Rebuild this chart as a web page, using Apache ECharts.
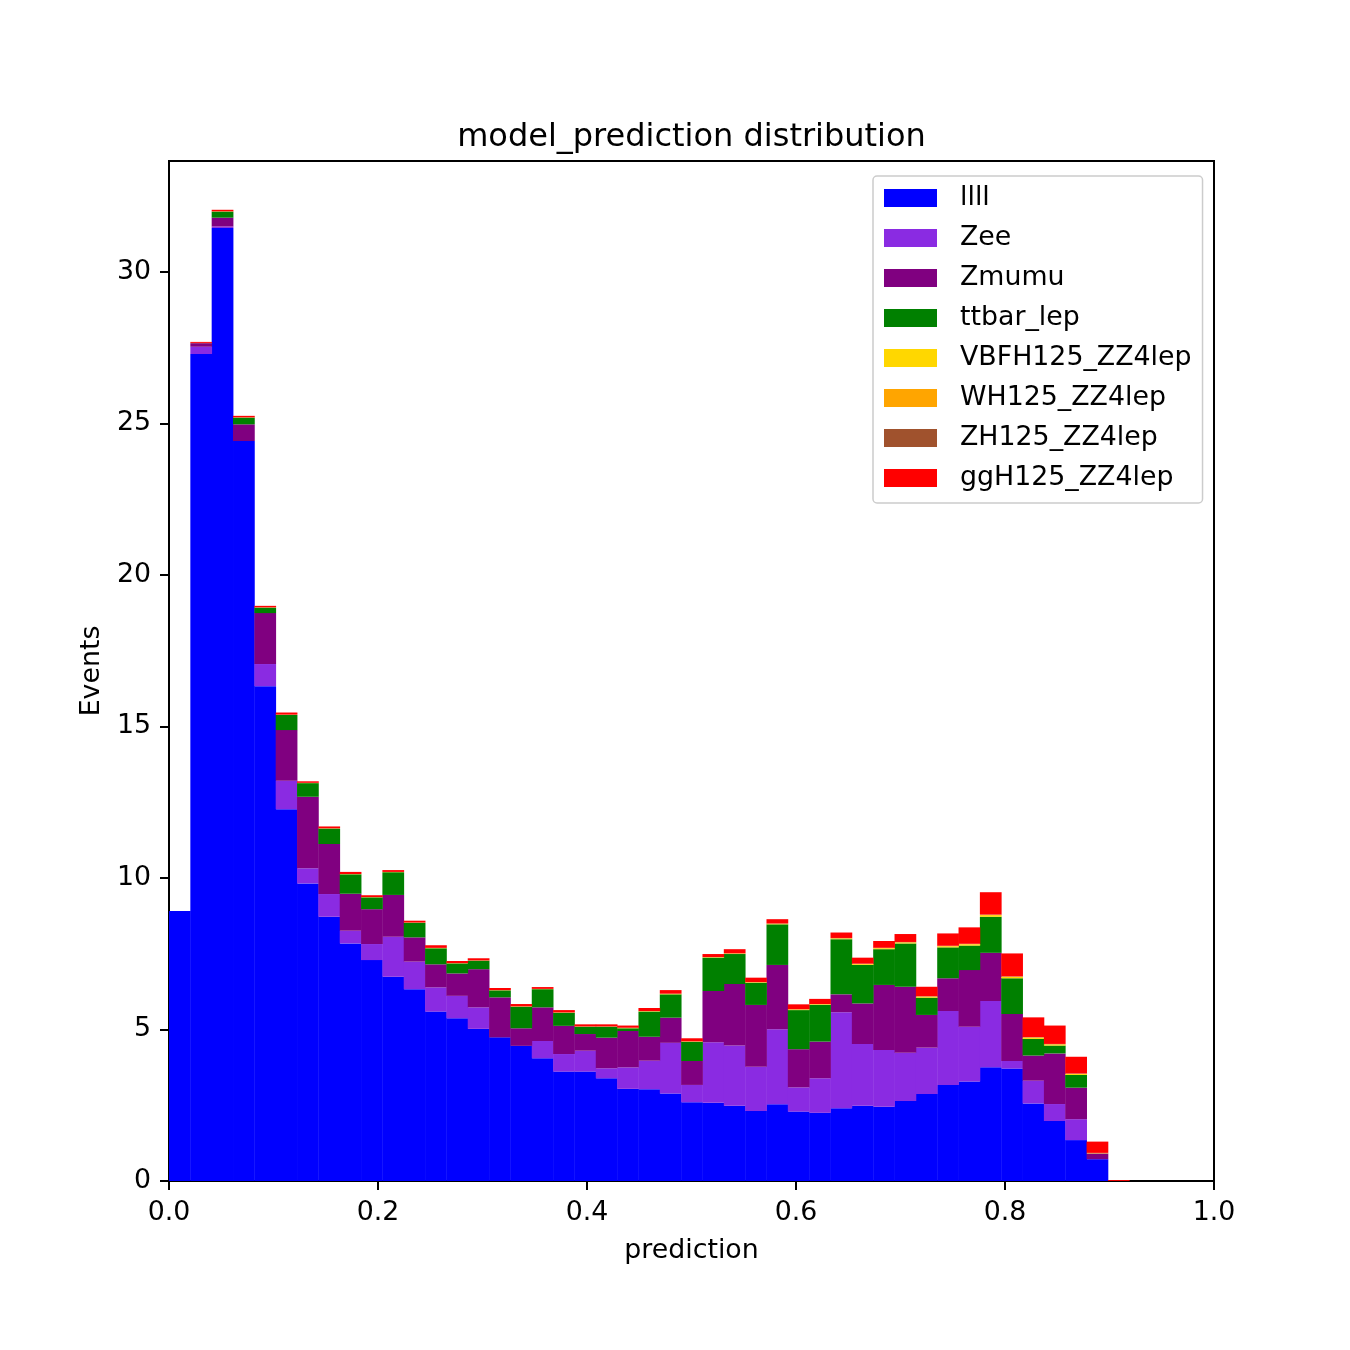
<!DOCTYPE html>
<html>
<head>
<meta charset="utf-8">
<script src="https://cdn.jsdelivr.net/npm/echarts@6/dist/echarts.min.js"></script>
<style>
html,body{margin:0;padding:0;background:#fff;}
#chart{width:1350px;height:1350px;}
</style>
</head>
<body>
<div id="chart"></div>
<script>
// Histogram binning (45 equal bins starting at 0)
const binStart = 0.0;
const binWidth = 0.02042;
const nBins = 45;

const seriesNames = ["llll","Zee","Zmumu","ttbar_lep","VBFH125_ZZ4lep","WH125_ZZ4lep","ZH125_ZZ4lep","ggH125_ZZ4lep"];
const seriesColors = ["#0000ff","#8a2be2","#800080","#008000","#ffd700","#ffa500","#a0522d","#ff0000"];

const llll = [8.91,27.29,31.45,24.42,16.33,12.27,9.82,8.72,7.84,7.29,6.74,6.33,5.59,5.37,5.02,4.74,4.46,4.05,3.61,3.61,3.39,3.04,3.03,2.89,2.60,2.58,2.48,2.31,2.53,2.29,2.25,2.40,2.48,2.45,2.64,2.87,3.17,3.28,3.75,3.71,2.56,1.98,1.35,0.72,0];
const Zee = [0,0.24,0.05,0,0.73,0.94,0.50,0.75,0.42,0.53,1.32,0.91,0.80,0.74,0.71,0,0,0.57,0.58,0.69,0.33,0.71,0.94,1.67,0.57,2.00,1.99,1.46,2.48,0.80,1.14,3.17,2.04,1.87,1.59,1.53,2.44,1.81,2.19,0.25,0.75,0.56,0.69,0,0];
const Zmumu = [0,0.12,0.29,0.55,1.68,1.67,2.36,1.65,1.22,1.15,1.38,0.80,0.76,0.74,1.26,1.32,0.58,1.11,0.93,0.55,1.01,1.20,0.79,0.83,0.79,1.69,2.03,2.04,2.12,1.26,1.21,0.59,1.34,2.15,2.18,1.08,1.08,1.87,1.59,1.55,0.83,1.67,1.04,0.19,0];
const ttbar_lep = [0,0,0.20,0.22,0.18,0.50,0.45,0.51,0.64,0.39,0.75,0.48,0.53,0.33,0.28,0.23,0.71,0.60,0.43,0.24,0.36,0.09,0.83,0.77,0.63,1.10,0.99,0.73,1.34,1.29,1.21,1.82,1.27,1.18,1.43,0.57,1.02,0.81,1.19,1.18,0.55,0.26,0.42,0,0];
const VBFH125 = [0,0.003,0.005,0.005,0.005,0.005,0.005,0.005,0.005,0.005,0.005,0.005,0.008,0.005,0.005,0.005,0.008,0.005,0.008,0.005,0.005,0.008,0.01,0.012,0.01,0.012,0.015,0.015,0.018,0.02,0.02,0.022,0.025,0.028,0.03,0.03,0.035,0.04,0.055,0.045,0.04,0.035,0.03,0.01,0];
const WH125 = [0,0.003,0.003,0.003,0.003,0.003,0.003,0.003,0.003,0.003,0.003,0.003,0.003,0.003,0.003,0.003,0.003,0.003,0.003,0.003,0.003,0.006,0.006,0.006,0.006,0.006,0.006,0.006,0.006,0.006,0.006,0.01,0.01,0.01,0.01,0.01,0.01,0.01,0.01,0.01,0.01,0.01,0.01,0.005,0];
const ZH125 = [0,0.002,0.002,0.002,0.002,0.002,0.002,0.002,0.002,0.002,0.002,0.002,0.002,0.002,0.002,0.002,0.002,0.002,0.002,0.002,0.002,0.004,0.004,0.004,0.004,0.004,0.004,0.004,0.004,0.004,0.004,0.008,0.008,0.008,0.008,0.008,0.008,0.008,0.008,0.008,0.008,0.008,0.008,0.003,0];
const ggH125 = [0,0.032,0.05,0.05,0.05,0.07,0.05,0.06,0.07,0.06,0.06,0.06,0.087,0.07,0.07,0.07,0.077,0.06,0.077,0.07,0.07,0.072,0.10,0.118,0.10,0.098,0.135,0.145,0.142,0.16,0.17,0.18,0.197,0.224,0.262,0.312,0.407,0.542,0.737,0.757,0.652,0.607,0.552,0.372,0.03];

const yTicks = [0,5,10,15,20,25,30];
const xTicks = [0,0.2,0.4,0.6,0.8,1.0];

const allValues = [llll,Zee,Zmumu,ttbar_lep,VBFH125,WH125,ZH125,ggH125];

// Build stacked rectangles data [left, right, bottom, top]
const cum = new Array(nBins).fill(0);
const seriesData = allValues.map(function(vals){
  const d = [];
  for (let i = 0; i < nBins; i++) {
    const v = vals[i] || 0;
    const b = cum[i];
    cum[i] = b + v;
    if (v > 0) d.push([binStart + i*binWidth, binStart + (i+1)*binWidth, b, b + v]);
  }
  return d;
});

function renderItem(params, api){
  const p0 = api.coord([api.value(0), api.value(2)]);
  const p1 = api.coord([api.value(1), api.value(3)]);
  return {
    type: 'rect',
    shape: {x: p0[0], y: p1[1], width: p1[0]-p0[0] + 0.4, height: p0[1]-p1[1]},
    style: {fill: api.visual('color')}
  };
}

const FONT = "'DejaVu Sans', sans-serif";
const FS = 26.8;
const chart = echarts.init(document.getElementById('chart'), null, {renderer:'canvas'});
chart.setOption({
  animation: false,
  backgroundColor: '#fff',
  title: {
    text: 'model_prediction distribution',
    left: 686.5, top: 117, textAlign: 'center',
    textStyle: {fontFamily: FONT, fontSize: 32, fontWeight: 'normal', color: '#000'}
  },
  legend: {
    orient: 'vertical',
    left: 873, top: 176,
    data: seriesNames,
    icon: 'rect',
    itemWidth: 53, itemHeight: 18,
    itemGap: 10,
    padding: [7, 11, 10, 11],
    backgroundColor: '#fff',
    borderColor: '#cccccc', borderWidth: 1.5, borderRadius: 4,
    textStyle: {fontFamily: FONT, fontSize: FS, color: '#000', lineHeight: 30, padding: [0,0,0,18]}
  },
  grid: {
    left: 169, right: 136, top: 161, bottom: 169,
    show: true, borderColor: '#000', borderWidth: 2, backgroundColor: 'transparent'
  },
  xAxis: {
    type: 'value', min: 0, max: 1, interval: 0.2,
    name: 'prediction', nameLocation: 'middle', nameGap: 57,
    nameTextStyle: {fontFamily: FONT, fontSize: FS, color: '#000'},
    axisLine: {show: true, onZero: false, lineStyle: {color: '#000', width: 2}},
    axisTick: {show: true, inside: false, length: 9, lineStyle: {color: '#000', width: 2}},
    axisLabel: {fontFamily: FONT, fontSize: FS, color: '#000', margin: 19,
      formatter: function(v){ return v.toFixed(1); }},
    splitLine: {show: false}
  },
  yAxis: {
    type: 'value', min: 0, max: 33.66,
    axisLabel: {fontFamily: FONT, fontSize: FS, color: '#000', margin: 18, customValues: yTicks,
      formatter: function(v){ return String(Math.round(v)); }},
    axisTick: {show: true, inside: false, length: 9, customValues: yTicks, lineStyle: {color: '#000', width: 2}},
    name: 'Events', nameLocation: 'middle', nameGap: 62, nameRotate: 90,
    nameTextStyle: {fontFamily: FONT, fontSize: FS, color: '#000'},
    axisLine: {show: true, lineStyle: {color: '#000', width: 2}},
    splitLine: {show: false}
  },
  series: seriesNames.map(function(name, k){
    return {
      name: name, type: 'custom', renderItem: renderItem,
      itemStyle: {color: seriesColors[k]},
      encode: {x: [0,1], y: [2,3]},
      data: seriesData[k],
      clip: true
    };
  })
});
</script>
</body>
</html>
